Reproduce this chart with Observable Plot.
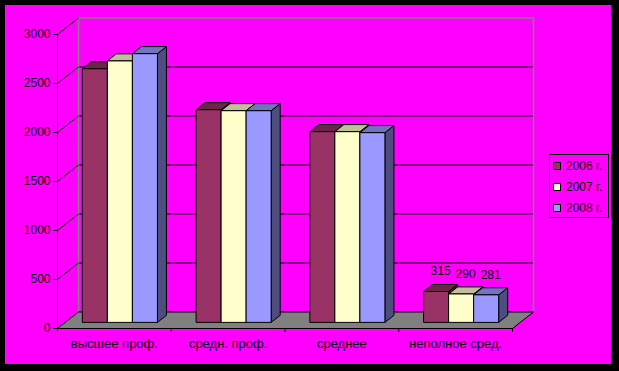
<!DOCTYPE html>
<html><head><meta charset="utf-8">
<script src="https://cdn.jsdelivr.net/npm/d3@7"></script>
<script src="https://cdn.jsdelivr.net/npm/@observablehq/plot@0.6"></script>
<style>
html,body{margin:0;padding:0;background:#000;}
#wrap{position:relative;width:619px;height:371px;background:#000;overflow:hidden;font-family:"Liberation Sans",Arial,sans-serif;}
#chart{position:absolute;left:5px;top:5px;width:606px;height:359px;background:#FF00FF;}
#legend{position:absolute;left:549px;top:154px;width:58px;height:62px;border:1px solid #000;font-size:12px;color:#000;}
#legend .row{position:absolute;left:3px;height:14px;line-height:14px;white-space:nowrap;}
#legend .sw{display:inline-block;width:6px;height:6px;border:1px solid #000;margin-right:5px;vertical-align:middle;position:relative;top:-1px;}
</style>
</head><body>
<div id="wrap"><div id="chart"></div><div id="legend"></div></div>
<script>
// ---- data ----
const categories = ["высшее проф.", "средн. проф.", "среднее", "неполное сред."];
const seriesNames = ["2006 г.", "2007 г.", "2008 г."];
const v2006 = [2588, 2170, 1946, 315];
const v2007 = [2668, 2160, 1946, 290];
const v2008 = [2742, 2160, 1936, 281];
const yTicks = [0, 500, 1000, 1500, 2000, 2500, 3000];
const shownLabels = [false, false, false, true]; // value labels readable only on last group

// ---- style ----
const frontColors = ["#993366", "#FFFFCC", "#9999FF"];
const topColors = ["#6E2449", "#BFBF99", "#7373BF"];
const sideColors = ["#4D1A33", "#80806A", "#4D4D80"];
const seriesValues = [v2006, v2007, v2008];

// 3D projection parameters (depth offset expressed in scale units)
const pxPerU = 113.75, pxPerV = 294 / 3000;
const DU = 21 / pxPerU, DV = 16.5 / pxPerV;
const F0 = 0.37, F1 = 0.80;
const GAP0 = 0.15, BW = 0.22;
const P = (u, v, f) => ({x: u + f * DU, y: v + f * DV});

const polys = [];
let pid = 0;
function poly(pts, fill) {
  const id = pid++;
  [...pts, pts[0]].forEach(p => polys.push({id, x: p.x, y: p.y, fill}));
}
const nCat = categories.length;
poly([P(0,0,0), P(nCat,0,0), P(nCat,0,1), P(0,0,1)], "#808080");
categories.forEach((c, g) => {
  seriesValues.forEach((vals, s) => {
    const v = vals[g];
    const u0 = g + GAP0 + s * BW, u1 = u0 + BW;
    poly([P(u1,0,F0), P(u1,v,F0), P(u1,v,F1), P(u1,0,F1)], sideColors[s]);
    poly([P(u0,v,F0), P(u1,v,F0), P(u1,v,F1), P(u0,v,F1)], topColors[s]);
    poly([P(u0,0,F0), P(u1,0,F0), P(u1,v,F0), P(u0,v,F0)], frontColors[s]);
  });
});

const labels = [];
categories.forEach((c, g) => {
  if (!shownLabels[g]) return;
  seriesValues.forEach((vals, s) => {
    const uc = g + GAP0 + s * BW + BW / 2;
    const p = P(uc, vals[g], (F0 + F1) / 2);
    labels.push({x: p.x, y: vals[g] + F1 * DV, text: String(vals[g])});
  });
});

const topV = yTicks[yTicks.length - 1];
const backFrame = [P(0,0,1), P(0,topV,1), P(nCat,topV,1), P(nCat,0,1)];
const gridVals = yTicks.filter(v => v > 0 && v < topV);
const diagVals = yTicks.filter(v => v > 0);

const chart = Plot.plot({
  width: 606, height: 359,
  marginLeft: 52, marginRight: 99, marginTop: 29, marginBottom: 36,
  x: {domain: [0, nCat], label: null},
  y: {domain: [0, topV], label: null},
  color: {type: "identity"},
  style: {background: "transparent", fontFamily: "'Liberation Sans', Arial, sans-serif", fontSize: "12px", color: "#000", overflow: "visible"},
  marks: [
    Plot.link(gridVals, {x1: () => DU, x2: () => nCat + DU, y1: v => v + DV, y2: v => v + DV, stroke: "#000", strokeWidth: 1}),
    Plot.line(backFrame, {x: "x", y: "y", stroke: "#808080", strokeWidth: 1.5}),
    Plot.link(diagVals, {x1: () => 0, x2: () => DU, y1: v => v, y2: v => v + DV, stroke: "#000", strokeWidth: 1}),
    Plot.line(polys, {x: "x", y: "y", z: "id", fill: "fill", stroke: "#000", strokeWidth: 1, strokeLinejoin: "miter", strokeLinecap: "butt", curve: "linear"}),
    Plot.ruleX([0], {y1: 0, y2: topV, stroke: "#000"}),
    Plot.ruleY([0], {x1: 0, x2: nCat, stroke: "#000"}),
    Plot.axisY({ticks: yTicks, tickSize: 4, tickPadding: 3, tickFormat: d => String(d), label: null}),
    Plot.axisX({ticks: d3.range(nCat + 1), tickSize: 4, tickFormat: () => "", label: null}),
    Plot.axisX({ticks: categories.map((c, i) => i + 0.5), tickSize: 0, tickPadding: 10, tickFormat: d => categories[Math.floor(d)], label: null, fontSize: 13}),
    Plot.text(labels, {x: "x", y: "y", text: "text", dy: -13, lineAnchor: "middle", fill: "#000", fontSize: 12})
  ]
});
document.getElementById("chart").appendChild(chart);

const legend = document.getElementById("legend");
seriesNames.forEach((name, i) => {
  const row = document.createElement("div");
  row.className = "row";
  row.style.top = (4 + i * 21) + "px";
  row.innerHTML = `<span class="sw" style="background:${frontColors[i]}"></span>${name}`;
  legend.appendChild(row);
});
</script>
</body></html>
